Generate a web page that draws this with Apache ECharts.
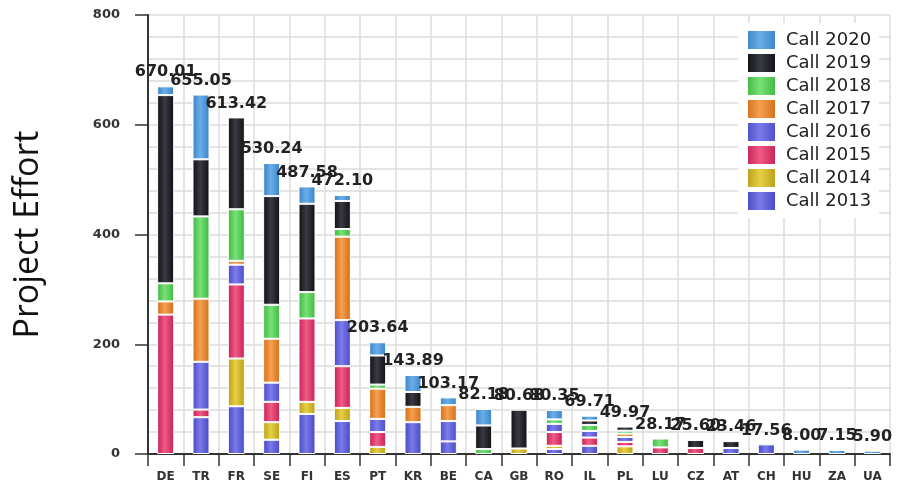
<!DOCTYPE html>
<html>
<head>
<meta charset="utf-8">
<script src="https://cdn.jsdelivr.net/npm/echarts@6/dist/echarts.min.js"></script>
<style>html,body{margin:0;padding:0;background:#fff;}#c{width:910px;height:490px;}</style>
</head>
<body>
<div id="c"></div>
<script>
const categories = ['DE','TR','FR','SE','FI','ES','PT','KR','BE','CA','GB','RO','IL','PL','LU','CZ','AT','CH','HU','ZA','UA'];
const c2013 = [0,67,87,26,73,60,0,58,23,0,0,9,15,0,0,0,0,17.56,0,0,0];
const c2014 = [0,0,87,32,22,24,13,0,0,0,10,6,0,14,0,0,0,0,0,0,0];
const c2015 = [254,14,135,37,152,76,27,0,0,0,0,25,15,8,12,11,0,0,0,0,0];
const c2016 = [0,87,36,35,0,84,24,0,37,0,0,15,12,9,0,0,11,0,0,0,0];
const c2017 = [24,115,7,80,0,152,55,28,29,0,0,0,0,6,0,0,0,0,0,0,0];
const c2018 = [33,150,94,62,48,14,7.5,0,0,9,0,8,11,5.5,16.17,0,0,0,0,0,0];
const c2019 = [343,104,167.42,198,161,51,53,27,0,43,70.68,0,8,7.47,0,14.6,12.46,0,0,0,0];
const c2020 = [16.01,118.05,0,60.24,31.58,11.1,24.14,30.89,14.17,30.18,0,17.35,8.71,0,0,0,0,0,8,7.15,5.9];
const totals = [670.01,655.05,613.42,530.24,487.58,472.10,203.64,143.89,103.17,82.18,80.68,80.35,69.71,49.97,28.17,25.60,23.46,17.56,8.00,7.15,5.90];
const yTicks = [0,200,400,600,800];

const seriesDefs = [
  {name:'Call 2013', data:c2013, light:'#7a7ae8', dark:'#4646c4'},
  {name:'Call 2014', data:c2014, light:'#e6cf45', dark:'#b89d18'},
  {name:'Call 2015', data:c2015, light:'#f05a86', dark:'#c61f52'},
  {name:'Call 2016', data:c2016, light:'#7c7cea', dark:'#4a4ac8'},
  {name:'Call 2017', data:c2017, light:'#f5a050', dark:'#d26d18'},
  {name:'Call 2018', data:c2018, light:'#78e078', dark:'#3cb83c'},
  {name:'Call 2019', data:c2019, light:'#3a3a44', dark:'#0e0e12'},
  {name:'Call 2020', data:c2020, light:'#6aaee8', dark:'#3a82c8'}
];

function grad(light, dark){
  return new echarts.graphic.LinearGradient(0,0,1,0,[
    {offset:0,color:dark},{offset:0.45,color:light},{offset:1,color:dark}
  ]);
}

const series = seriesDefs.map(s => ({
  name: s.name,
  type: 'bar',
  stack: 'all',
  barWidth: 17,
  data: s.data.map(v => v === 0 ? null : v),
  itemStyle: {color: grad(s.light, s.dark), borderColor:'#fff', borderWidth:1},
  emphasis: {disabled:true}
}));
series.push({
  name: 'Total',
  type: 'bar',
  stack: 'all',
  barWidth: 17,
  data: totals.map(() => 0),
  itemStyle: {color:'rgba(0,0,0,0)', borderWidth:0},
  label: {
    show: true, position: 'top', distance: 6,
    formatter: p => totals[p.dataIndex].toFixed(2),
    fontFamily: 'DejaVu Sans', fontWeight: 'bold', fontSize: 16, color: '#222'
  },
  z: 5
});

const chart = echarts.init(document.getElementById('c'), null, {renderer:'canvas'});
chart.setOption({
  animation: false,
  backgroundColor: '#fff',
  grid: {left:148, right:20, top:15, bottom:36},
  legend: {
    data: seriesDefs.map(s => s.name).reverse(),
    orient: 'vertical',
    left: 738, top: 23,
    padding: [6,8,6,8],
    backgroundColor: '#fff',
    itemWidth: 29, itemHeight: 20, itemGap: 1,
    icon: 'rect',
    selectedMode: false,
    textStyle: {fontFamily:'DejaVu Sans', fontSize:18, color:'#222', padding:[0,0,0,5]}
  },
  xAxis: {
    type: 'category',
    data: categories,
    axisLine: {lineStyle:{color:'#333', width:2}},
    axisTick: {show:true, length:12, lineStyle:{color:'#333', width:1.5}},
    axisLabel: {margin:17, fontFamily:'DejaVu Sans', fontWeight:'bold', fontSize:12, color:'#333', interval:0},
    splitLine: {show:true, interval:0, lineStyle:{color:'#dcdcdc', width:1.5}}
  },
  yAxis: {
    type: 'value',
    min: 0, max: 800, interval: 200,
    name: 'Project Effort',
    nameLocation: 'middle',
    nameRotate: 90,
    nameGap: 103,
    nameTextStyle: {fontFamily:'Open Sans', fontSize:34, color:'#111'},
    axisLine: {show:true, lineStyle:{color:'#333', width:2}},
    axisTick: {show:true, length:13, lineStyle:{color:'#333', width:1.5}},
    axisLabel: {margin:28, fontFamily:'DejaVu Sans', fontWeight:'bold', fontSize:13, color:'#333',
      formatter: v => yTicks.indexOf(v) >= 0 ? String(v) : ''},
    splitLine: {show:true, lineStyle:{color:'#dcdcdc', width:1.5}},
    minorTick: {show:false, splitNumber:5},
    minorSplitLine: {show:true, lineStyle:{color:'#dcdcdc', width:1.5}}
  },
  series: series
});
</script>
</body>
</html>
